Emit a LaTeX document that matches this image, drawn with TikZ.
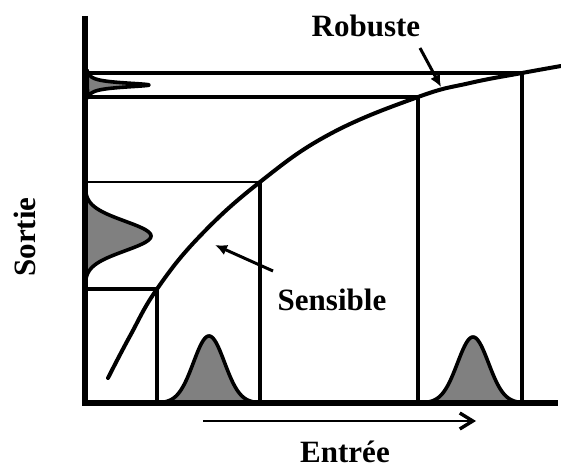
\documentclass[tikz,border=0pt]{standalone}
\usepackage{fontspec}
\setmainfont{Liberation Serif}
\usetikzlibrary{arrows.meta}
\definecolor{bellgray}{RGB}{128,128,128}
\begin{document}
\begin{tikzpicture}[x=1pt,y=-1pt,
  lbl/.style={font=\bfseries\fontsize{31}{31}\selectfont, inner sep=0pt},
  guide/.style={line width=3.3pt},
  thinguide/.style={line width=1.2pt},
  bell/.style={fill=bellgray, draw=black, line width=3.6pt, line join=round},
  pointer/.style={line width=3pt, -{Latex[length=12pt,width=11pt]}},
  flow/.style={line width=2.8pt, -{Straight Barb[length=13pt,width=16pt,line width=3.4pt]}}]
\useasboundingbox (0,0) rectangle (561,470);
% bells
\draw[bell] plot[domain=157:260, samples=90] (\x, {403-67*exp(-((\x-209)^2)/480)}) -- cycle;
\draw[bell] plot[domain=418:522, samples=90] (\x, {403-66*exp(-((\x-473)^2)/480)}) -- cycle;
\draw[bell] plot[domain=182:290, samples=90] ({85+66*exp(-((\x-236)^2)/440)}, \x) -- cycle;
\draw[bell] plot[domain=70:98, samples=120] ({85+64/(1+((\x-85)/2.7)^2)}, \x) -- cycle;
% guides
\coordinate (c1) at (157,289);
\coordinate (c2) at (260,182);
\coordinate (c3) at (418,97);
\coordinate (c4) at (522,73);
\draw[guide] (85,73) -- (c4) -- (522,403);
\draw[guide] (85,97) -- (c3) -- (418,403);
\draw[thinguide] (85,182) -- (c2);
\draw[guide] (c2) -- (260,403);
\draw[guide] (85,289) -- (c1) -- (157,403);
% curve
\draw[line width=4pt, line cap=round] plot[smooth, tension=0.7] coordinates {(108,378) (130,336) (c1) (200,236) (c2) (330,134) (c3) (470,83) (c4) (561,66)};
% axes
\draw[line width=5.5pt] (85,16) -- (85,403) -- (558,403);
% labels
\node[lbl] (rob) at (366,26) {Robuste};
\node[lbl] (sen) at (332,300) {Sensible};
\node[lbl] (ent) at (345,452) {Entrée};
\node[lbl, rotate=90] (sor) at (25,237) {Sortie};
% arrows
\coordinate (ra) at (420,48);
\coordinate (rb) at (441,87);
\draw[pointer] (ra) -- (rb);
\coordinate (sa) at (273,271);
\coordinate (sb) at (215,245);
\draw[pointer] (sa) -- (sb);
\coordinate (fa) at (203,421);
\coordinate (fb) at (476,421);
\draw[flow] (fa) -- (fb);
\end{tikzpicture}
\end{document}
